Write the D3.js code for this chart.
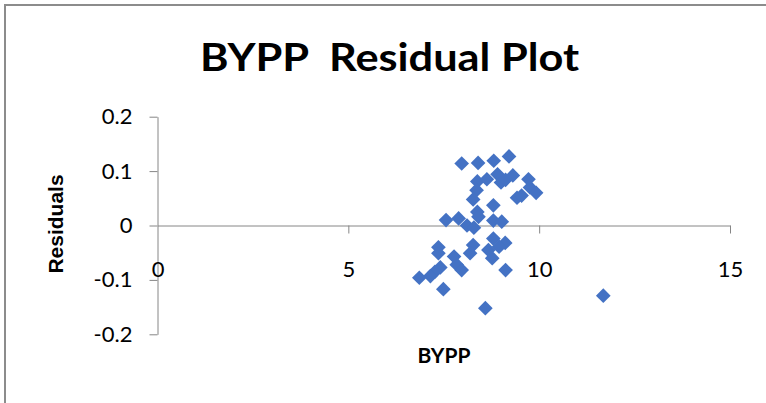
<!DOCTYPE html>
<html>
<head>
<meta charset="utf-8">
<script src="https://cdn.jsdelivr.net/npm/d3@7"></script>
<style>
  body { margin: 0; background: #fff; }
  svg { display: block; }
</style>
</head>
<body>
<div id="chart"></div>
<script>
// BYPP values
var bypp = [7.97, 8.40, 8.81, 9.21, 8.38, 8.63, 8.91, 9.00, 9.12, 9.31,
            9.72, 9.76, 9.92, 9.42, 9.54, 8.36, 8.27, 8.80, 8.38, 8.41,
            7.56, 7.89, 8.11, 8.29, 8.80, 9.02, 8.27, 8.19, 8.80, 9.11,
            8.95, 8.67, 8.77, 7.36, 7.36, 7.77, 7.84, 7.97, 7.41, 7.27,
            7.15, 6.86, 9.12, 7.49, 8.59, 11.68];

var residuals = [0.114, 0.115, 0.119, 0.127, 0.081, 0.085, 0.094, 0.079, 0.084, 0.092,
                 0.085, 0.070, 0.060, 0.051, 0.055, 0.065, 0.048, 0.037, 0.025, 0.016,
                 0.010, 0.013, 0.000, -0.004, 0.009, 0.007, -0.036, -0.051, -0.024, -0.032,
                 -0.039, -0.045, -0.060, -0.040, -0.051, -0.057, -0.072, -0.082, -0.077, -0.085,
                 -0.093, -0.096, -0.082, -0.117, -0.152, -0.129];

var xTicks = [0, 5, 10, 15];
var yTicks = [-0.2, -0.1, 0, 0.1, 0.2];
var yTickLabels = ['-0.2', '-0.1', '0', '0.1', '0.2'];

var width = 766, height = 403;
var axisColor = '#868686';

var svg = d3.select('#chart').append('svg')
    .attr('width', width)
    .attr('height', height);

// chart frame (right and bottom edges fall outside the picture)
svg.append('rect')
    .attr('x', 5).attr('y', 5)
    .attr('width', 800).attr('height', 420)
    .attr('fill', 'none')
    .attr('stroke', '#8c8c8c')
    .attr('stroke-width', 2);

svg.append('text')
    .attr('x', 389.5).attr('y', 71)
    .attr('text-anchor', 'middle')
    .attr('textLength', 379)
    .attr('lengthAdjust', 'spacingAndGlyphs')
    .style('font-family', 'Lato, sans-serif')
    .style('font-weight', 'bold')
    .style('font-size', '39px')
    .style('white-space', 'pre')
    .text('BYPP  Residual Plot');

var x = d3.scaleLinear().domain([0, 15]).range([157.5, 730]);
var y = d3.scaleLinear().domain([-0.2, 0.2]).range([334.3, 116.7]);

// y axis
var gy = svg.append('g')
    .attr('transform', 'translate(' + x(0) + ',0)')
    .call(d3.axisLeft(y).tickValues(yTicks).tickSizeInner(8).tickSizeOuter(0).tickPadding(17)
      .tickFormat(function(d, i) { return yTickLabels[i]; }));

// x axis, crossing at zero; labels sit lower as in the original
var gx = svg.append('g')
    .attr('transform', 'translate(0,' + y(0) + ')')
    .call(d3.axisBottom(x).tickValues(xTicks).tickSizeInner(8).tickSizeOuter(0));

gx.selectAll('.tick text')
    .attr('y', 51)
    .attr('dy', 0);

[gx, gy].forEach(function(g) {
  g.select('.domain').attr('stroke', axisColor);
  g.selectAll('.tick line').attr('stroke', axisColor);
  g.selectAll('.tick text')
      .attr('fill', '#000')
      .style('font-family', 'Lato, sans-serif')
      .style('font-size', '22px');
});

gx.select('.tick line').remove();

// points
var diamond = d3.symbol().type(d3.symbolSquare).size(108);

svg.append('g').selectAll('path')
    .data(bypp)
  .enter().append('path')
    .attr('d', diamond)
    .attr('transform', function(d, i) {
      return 'translate(' + x(d) + ',' + y(residuals[i]) + ') rotate(45)';
    })
    .attr('fill', '#4472C4');

// axis titles
svg.append('text')
    .attr('x', 444).attr('y', 363)
    .attr('text-anchor', 'middle')
    .style('font-family', 'Lato, sans-serif')
    .style('font-weight', 'bold')
    .style('font-size', '21px')
    .text('BYPP');

svg.append('text')
    .attr('transform', 'translate(63,224) rotate(-90)')
    .attr('text-anchor', 'middle')
    .style('font-family', '"Liberation Sans", Arial, sans-serif')
    .style('font-weight', 'bold')
    .style('font-size', '21px')
    .text('Residuals');
</script>
</body>
</html>
